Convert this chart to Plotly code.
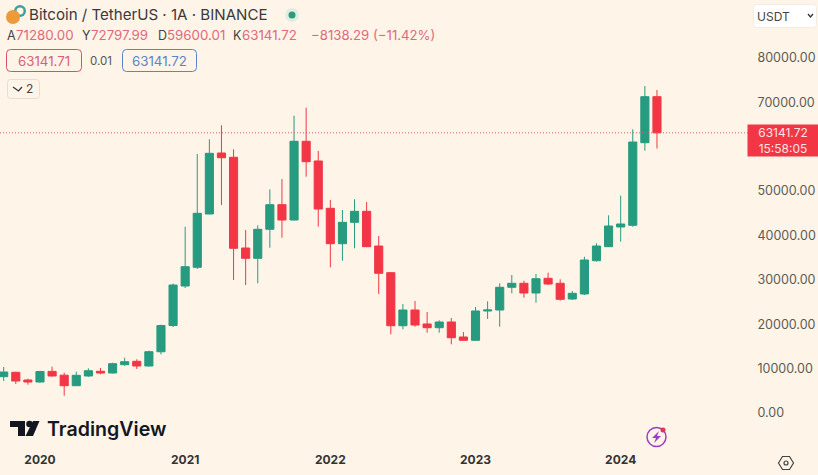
import plotly.graph_objects as go

# monthly candles, index 0 = 2020-01
month_idx = list(range(-3, 52))
opens = [8180, 9170, 7440, 6985, 9380, 8520, 6150, 8340, 9400, 9015, 10885, 11650, 10590, 13800, 19720,
         28620, 32830, 44845, 58590, 57620, 37180, 34860, 41400, 46940, 43490, 61230, 56790, 46130, 38150,
         42970, 45450, 37630, 31620, 19670, 23210, 20060, 19220, 20510, 17130, 16380, 22990, 23210, 28330,
         29230, 27040, 30350, 29230, 25690, 26820, 34320, 37480, 41920, 42300, 60910, 71280]
highs = [10370, 9310, 7730, 9500, 10435, 9080, 9310, 10070, 10140, 11335, 12460, 12100, 14040, 19900, 29180,
         41980, 58370, 61680, 64830, 59420, 41240, 42300, 50410, 52730, 67000, 68800, 59040, 48000, 45750,
         48160, 47550, 39890, 31770, 24560, 25240, 22760, 20890, 21410, 18250, 23890, 25170, 29230, 31100,
         29810, 31320, 31620, 30130, 27490, 35220, 38240, 44550, 48970, 63930, 73690, 72797.99]
lows = [7210, 6535, 6380, 6800, 8225, 3900, 6100, 8180, 8720, 8900, 10660, 9915, 10480, 13200, 19380,
        28170, 32450, 44800, 46870, 29970, 28845, 29230, 37250, 39500, 43380, 53250, 41980, 32830, 34320,
        37115, 37400, 26820, 17730, 18860, 19450, 18100, 18100, 15480, 16340, 16340, 21180, 19450, 26970,
        25980, 24860, 28840, 25310, 25460, 26590, 34140, 37410, 38600, 41980, 59110, 59600.01]
closes = [9240, 7210, 6985, 9350, 8340, 6150, 8495, 9530, 9015, 11110, 11560, 10590, 13815, 19700, 28845,
          32970, 45000, 58520, 57530, 37115, 34860, 41400, 46940, 43490, 61230, 56630, 45970, 38150, 42970,
          45450, 37480, 31480, 19670, 23210, 19830, 19220, 20510, 16970, 16380, 22990, 23210, 28330, 29230,
          27040, 30260, 29070, 25620, 26970, 34480, 37630, 42140, 42590, 61070, 71280, 63141.72]

# 60000.00 sits under the price tag in the reference, so it is left out
price_ticks = [0, 10000, 20000, 30000, 40000, 50000, 70000, 80000]
year_ticks = [0, 12, 24, 36, 48]
year_labels = ["2020", "2021", "2022", "2023", "2024"]
last_price = 63141.72

ohlc_letters = ["A", "Y", "D", "K"]
ohlc_values = ["71280.00", "72797.99", "59600.01", "63141.72"]

BG = "#fff4e8"
GREEN = "#269b7f"
RED = "#f23645"
PW, PH = 750, 451  # plot area in pixels


def px(x):
    return x / PW


def py(y):
    return 1 - y / PH


def note(x, y, text, size=12, color="#333333", anchor="left", **kw):
    return dict(xref="paper", yref="paper", x=px(x), y=py(y), text=text, showarrow=False,
                xanchor=anchor, yanchor="middle", font=dict(size=size, color=color, family="Inter"), **kw)


def box(x0, y0, x1, y1, line="#dddddd", fill="rgba(0,0,0,0)", r=3, lw=1):
    path = (f"M{px(x0 + r)},{py(y0)} L{px(x1 - r)},{py(y0)} Q{px(x1)},{py(y0)} {px(x1)},{py(y0 + r)} "
            f"L{px(x1)},{py(y1 - r)} Q{px(x1)},{py(y1)} {px(x1 - r)},{py(y1)} L{px(x0 + r)},{py(y1)} "
            f"Q{px(x0)},{py(y1)} {px(x0)},{py(y1 - r)} L{px(x0)},{py(y0 + r)} Q{px(x0)},{py(y0)} {px(x0 + r)},{py(y0)} Z")
    return dict(type="path", xref="paper", yref="paper", path=path, fillcolor=fill,
                line=dict(color=line, width=lw))


def dot(cx, cy, r, fill="rgba(0,0,0,0)", line="rgba(0,0,0,0)", lw=0):
    return dict(type="circle", xref="paper", yref="paper", x0=px(cx - r), x1=px(cx + r),
                y0=py(cy + r), y1=py(cy - r), fillcolor=fill, line=dict(color=line, width=lw))


def poly(points, fill="rgba(0,0,0,0)", line="rgba(0,0,0,0)", lw=0, close=True):
    path = "M" + " L".join(f"{px(a)},{py(b)}" for a, b in points) + (" Z" if close else "")
    return dict(type="path", xref="paper", yref="paper", path=path, fillcolor=fill,
                line=dict(color=line, width=lw))


fig = go.Figure(go.Candlestick(
    x=month_idx, open=opens, high=highs, low=lows, close=closes,
    line=dict(width=1), whiskerwidth=0,
    increasing=dict(fillcolor=GREEN, line=dict(color=GREEN, width=1)),
    decreasing=dict(fillcolor=RED, line=dict(color=RED, width=1)),
    showlegend=False,
))

shapes = [
    dict(type="line", xref="paper", yref="y", x0=0, x1=1, y0=last_price, y1=last_price,
         line=dict(color="#dd5a66", width=1, dash="1px,2px")),
    # coin logo
    dot(20, 11, 6, fill="#3f9e9e"),
    dot(20, 11, 3.5, fill=BG),
    dot(13, 17, 7, fill="#ee9a3a"),
    # live dot
    dot(292, 15, 7, fill="#dfeee4"),
    dot(292, 15, 3.5, fill="#2a9d78"),
    # legend buttons
    box(6.5, 49.5, 81.5, 71.5, line="#d8506a", r=4),
    box(122.5, 49.5, 196.5, 71.5, line="#5b84c9", r=4),
    box(7.5, 79.5, 39.5, 98.5, line="#e6ded4", r=3),
    poly([(13, 87), (18.5, 91), (22, 87)], line="#333333", lw=1.2, close=False),
    # currency box
    box(753.5, 4.5, 816.5, 27.5, line="#f2ece4", fill="#ffffff", r=3),
    poly([(808, 14), (810.5, 17), (813, 14)], line="#333333", lw=1.3, close=False),
    # TradingView mark
    poly([(10, 421), (25, 421), (25, 436), (18, 436), (18, 427), (10, 427)], fill="#131722"),
    dot(29.5, 424, 3.3, fill="#131722"),
    poly([(33, 421), (39.5, 421), (33, 436), (25.5, 436)], fill="#131722"),
    # bolt badge
    dot(656.5, 437, 9.5, line="#9a3fc4", lw=1.5),
    poly([(659, 431), (652, 438), (656, 438), (654, 443), (661, 436), (657, 436)], fill="#9a3fc4"),
    dot(663, 430, 2.5, fill="#e8344a"),
    # settings hexagon
    poly([(778.5, 463), (782.5, 456.5), (789.5, 456.5), (793.5, 463), (789.5, 469.5), (782.5, 469.5)],
         line="#444444", lw=1.2),
    dot(786, 463, 2, line="#444444", lw=1.2),
]

annotations = [
    note(27, 15, "Bitcoin / TetherUS · 1A · BINANCE", size=15.1, color="#3a3a3a"),
    note(309, 35, "−8138.29 (−11.42%)", size=13.2, color="#e0697a"),
    note(44, 60.5, "63141.71", size=13.3, color="#d9607c", anchor="center"),
    note(101, 60.5, "0.01", size=11.5, color="#555555", anchor="center"),
    note(159.5, 60.5, "63141.72", size=13.3, color="#5b84c9", anchor="center"),
    note(24, 89, "2", size=12, color="#444444"),
    note(755, 16, "USDT", size=12, color="#444444"),
    note(45, 429, "TradingView", size=19.6, color="#131722"),
    note(783, 140.5, "63141.72<br>15:58:05", size=12, color="#ffe3e3", anchor="center",
         bgcolor=RED, width=70, height=31, borderpad=0),
]
annotations[7]["font"]["weight"] = 600

for i, (letter, value) in enumerate(zip(ohlc_letters, ohlc_values)):
    annotations.append(note(5 + 75.3 * i, 35, letter, size=12.5, color="#444444"))
    annotations.append(note(14 + 75.3 * i, 35, value, size=13.3, color="#e0697a"))

fig.update_layout(
    width=818, height=475,
    margin=dict(l=0, r=68, t=0, b=24),
    paper_bgcolor=BG, plot_bgcolor=BG,
    boxgap=0.04,
    shapes=shapes, annotations=annotations,
    font=dict(family="Inter"),
    xaxis=dict(range=[-3.306, 58.69], rangeslider=dict(visible=False), showgrid=False, zeroline=False,
               tickmode="array", tickvals=year_ticks, ticktext=year_labels, showline=False, ticks="",
               tickfont=dict(size=12, color="#333333", weight=700)),
    yaxis=dict(range=[-8563, 93070], side="right", showgrid=False, zeroline=False, showline=False,
               tickmode="array", tickvals=price_ticks, tickformat=".2f", ticks="outside", ticklen=4,
               tickcolor="rgba(0,0,0,0)", tickfont=dict(size=12.5, color="#5c5c54")),
)

# drop the page's default margin so the figure fills the window
fig.write_html("out.html", config=dict(displayModeBar=False),
               post_script="document.body.style.margin='0';")
